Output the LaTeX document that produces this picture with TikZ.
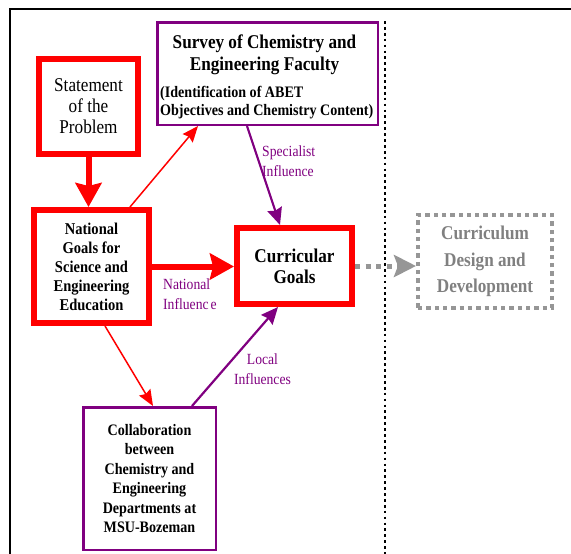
\documentclass[tikz,border=0pt]{standalone}
\usepackage{fontspec}
\setmainfont{Liberation Serif}[FakeStretch=0.88]
\usetikzlibrary{arrows.meta}
\definecolor{bred}{RGB}{255,0,0}
\definecolor{bpurple}{RGB}{128,0,128}
\definecolor{bgray}{RGB}{150,150,150}
\definecolor{tgray}{RGB}{128,128,128}

\begin{document}
\begin{tikzpicture}[x=1pt,y=-1pt,
  redbox/.style={draw=bred, line width=6pt, inner sep=0pt, align=center},
  purplebox/.style={draw=bpurple, line width=2.5pt, inner sep=0pt, align=center},
  graybox/.style={draw=bgray, line width=4.3pt, dash pattern=on 4.3pt off 4pt,
    inner sep=0pt, align=center, text=tgray},
  label/.style={text=bpurple, inner sep=0pt, font=\fontsize{15.5}{20}\selectfont},
  bigarrow/.style={draw=bred, line width=6pt, -{Stealth[length=24pt, width=26pt, inset=3pt]}},
  thinred/.style={draw=bred, line width=1.5pt, -{Stealth[length=16pt, width=13pt, inset=2pt]}},
  thinpurple/.style={draw=bpurple, line width=2.2pt, -{Stealth[length=17pt, width=15pt, inset=2pt]}},
  grayarrow/.style={draw=bgray, line width=5pt, dash pattern=on 5pt off 5.5pt,
    -{Stealth[length=22pt, width=22pt, inset=4pt]}},
]
\useasboundingbox (0,0) rectangle (571,554);

% outer frame (top and left edges)
\draw[line width=2pt] (10,556) -- (10,9) -- (573,9);
% dotted divider
\draw[line width=2.7pt, dash pattern=on 2.7pt off 3.2pt] (385,21) -- (385,556);

% boxes
\node[redbox, minimum width=99pt, minimum height=95pt,
  font=\fontsize{19.5}{21}\selectfont] (statement) at (88.5,106.5)
  {Statement\\of the\\Problem};
\node[redbox, minimum width=115pt, minimum height=113pt,
  font=\bfseries\fontsize{16.5}{19}\selectfont] (national) at (91.5,266.5)
  {National\\Goals for\\Science and\\Engineering\\Education};
\node[redbox, minimum width=115pt, minimum height=76pt,
  font=\bfseries\fontsize{19.5}{21}\selectfont] (curricular) at (294.5,266)
  {Curricular\\Goals};
\node[purplebox, minimum width=220.5pt, minimum height=102.5pt] (survey) at (267.5,73.5) {};
% multi-line text: the base anchor sits on the last line
\node[inner sep=0pt, anchor=base, align=center,
  font=\bfseries\fontsize{19.5}{22}\selectfont] (survtitle) at (264.5,70)
  {Survey of Chemistry and\\Engineering Faculty};
\node[inner sep=0pt, anchor=base west, align=left,
  font=\bfseries\fontsize{16}{18}\selectfont] (survsub) at (160,115)
  {(Identification of ABET\\Objectives and Chemistry Content)};
\node[purplebox, minimum width=132.5pt, minimum height=142.5pt,
  font=\bfseries\fontsize{16}{19.4}\selectfont] (collab) at (149.5,478.5)
  {Collaboration\\between\\Chemistry and\\Engineering\\Departments at\\MSU-Bozeman};
\node[graybox, minimum width=133.7pt, minimum height=92.7pt,
  font=\bfseries\fontsize{19.5}{26.5}\selectfont] (design) at (485,261.5)
  {Curriculum\\Design and\\Development};

% connectors
\draw[bigarrow] (statement.south) -- (statement.south |- national.north);
\draw[bigarrow] (national.east) -- (national.east -| curricular.west);
\draw[thinred] ([xshift=38.5pt]national.north) -- ([xshift=-69.5pt]survey.south);
\draw[thinred] ([xshift=13.5pt]national.south) -- ([xshift=3.5pt]collab.north);
\draw[thinpurple] ([xshift=-20.5pt]survey.south) -- ([xshift=-14.5pt]curricular.north);
\draw[thinpurple] ([xshift=42.5pt]collab.north) -- ([xshift=-16.5pt]curricular.south);
\draw[grayarrow] (curricular.east) -- (curricular.east -| design.west);

% connector labels
\node[label, anchor=base west, align=left] (speclbl) at (262,176) {Specialist\\Influence};
\node[label, anchor=base west, align=left] (natlbl) at (163,309) {National\\Influenc\kern2pt e};
\node[label, anchor=base, align=center] (locallbl) at (262.5,384) {Local\\Influences};
\end{tikzpicture}
\end{document}
